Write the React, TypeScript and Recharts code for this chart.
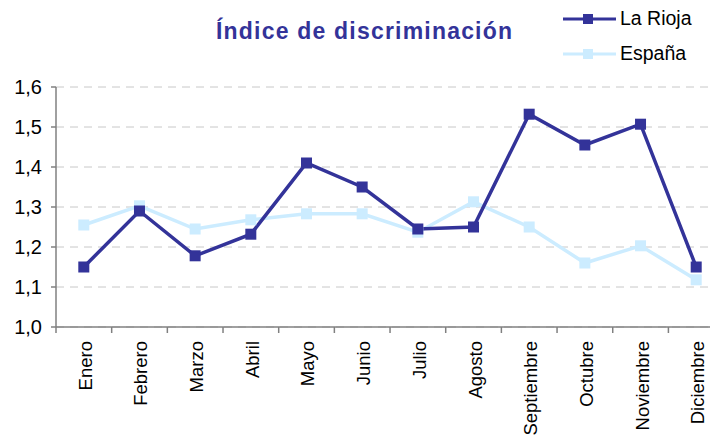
import { LineChart, Line, XAxis, YAxis, CartesianGrid } from "recharts";

const months = [
  "Enero", "Febrero", "Marzo", "Abril", "Mayo", "Junio",
  "Julio", "Agosto", "Septiembre", "Octubre", "Noviembre", "Diciembre",
];
const laRioja = [1.15, 1.29, 1.178, 1.232, 1.41, 1.35, 1.245, 1.25, 1.532, 1.455, 1.507, 1.15];
const espana = [1.255, 1.303, 1.245, 1.268, 1.283, 1.283, 1.237, 1.313, 1.25, 1.16, 1.203, 1.118];
const yTicks = [1.0, 1.1, 1.2, 1.3, 1.4, 1.5, 1.6];

const data = months.map((m, i) => ({ name: m, laRioja: laRioja[i], espana: espana[i] }));

const DARK = "#333399";
const LIGHT = "#CCECFF";
const FONT = "'Liberation Sans', Arial, sans-serif";
const HALF_BAND = 27.8;

function SquareDot(props: any) {
  const { cx, cy, fill } = props;
  if (cx == null || cy == null) return null;
  return <rect x={cx - 5.5} y={cy - 5.5} width={11} height={11} fill={fill} />;
}

function MonthTick(props: any) {
  const { x, y, payload, index } = props;
  return (
    <g>
      <line x1={x - HALF_BAND} y1={y - 8} x2={x - HALF_BAND} y2={y - 2} stroke="#808080" strokeWidth={1.5} />
      {index === months.length - 1 && (
        <line x1={x + HALF_BAND} y1={y - 8} x2={x + HALF_BAND} y2={y - 2} stroke="#808080" strokeWidth={1.5} />
      )}
      <text
        x={0}
        y={0}
        transform={`translate(${x + 8},${y + 6}) rotate(-90)`}
        textAnchor="end"
        fontSize={18.5}
        fontFamily={FONT}
        fill="#000"
      >
        {payload.value}
      </text>
    </g>
  );
}

function LegendBox() {
  const items = [
    { label: "La Rioja", color: DARK },
    { label: "España", color: LIGHT },
  ];
  return (
    <div style={{ position: "absolute", left: 555, top: -7 }}>
      {items.map((it) => (
        <div key={it.label} style={{ display: "flex", alignItems: "center", height: 35 }}>
          <svg width={56} height={14}>
            <line x1={0} y1={7} x2={53} y2={7} stroke={it.color} strokeWidth={3} />
            <rect x={20} y={2} width={10} height={10} fill={it.color} />
          </svg>
          <span style={{ fontFamily: FONT, fontSize: 19.5, color: "#000", marginLeft: 1 }}>{it.label}</span>
        </div>
      ))}
    </div>
  );
}

export default function App() {
  return (
    <div style={{ position: "relative", width: 710, height: 438, overflow: "hidden", background: "#fff" }}>
      <div
        style={{
          position: "absolute",
          left: 208,
          top: 10,
          fontFamily: FONT,
          fontWeight: "bold",
          fontSize: 23,
          letterSpacing: 1.2,
          color: DARK,
          whiteSpace: "nowrap",
        }}
      >
        Índice de discriminación
      </div>
      <LegendBox />
      <LineChart width={720} height={438} data={data} margin={{ top: 79, right: 4, left: 0, bottom: 0 }}>
        <CartesianGrid horizontal vertical={false} stroke="#c8c8c8" strokeDasharray="8 6" />
        <XAxis
          dataKey="name"
          interval={0}
          height={119}
          padding={{ left: HALF_BAND, right: HALF_BAND }}
          tickLine={false}
          axisLine={{ stroke: "#808080", strokeWidth: 1.5 }}
          tick={<MonthTick />}
        />
        <YAxis
          domain={[1.0, 1.6]}
          ticks={yTicks}
          width={48}
          tickSize={5}
          tickMargin={9}
          interval={0}
          axisLine={{ stroke: "#808080", strokeWidth: 1.5 }}
          tickLine={{ stroke: "#808080", strokeWidth: 1.5 }}
          tick={{ fontSize: 20, fontFamily: FONT, fill: "#000" }}
          tickFormatter={(v: number) => v.toFixed(1).replace(".", ",")}
        />
        <Line
          type="linear"
          dataKey="espana"
          stroke={LIGHT}
          strokeWidth={3.5}
          fill={LIGHT}
          dot={<SquareDot fill={LIGHT} />}
          isAnimationActive={false}
        />
        <Line
          type="linear"
          dataKey="laRioja"
          stroke={DARK}
          strokeWidth={3.5}
          fill={DARK}
          dot={<SquareDot fill={DARK} />}
          isAnimationActive={false}
        />
      </LineChart>
    </div>
  );
}
